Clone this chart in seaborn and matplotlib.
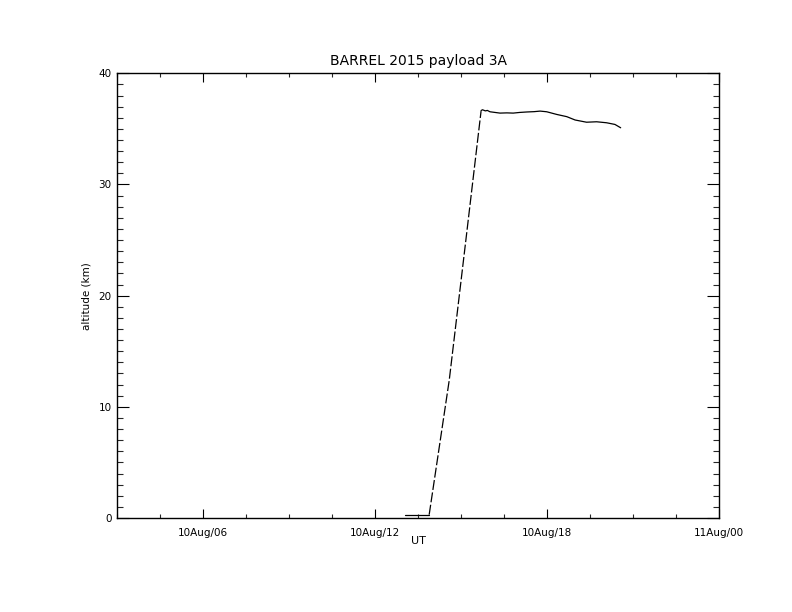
import matplotlib
matplotlib.use("Agg")
import matplotlib.pyplot as plt
import seaborn as sns
import numpy as np
from matplotlib.ticker import FixedLocator, MultipleLocator

sns.set_theme(style="white")
plt.rcParams['font.family'] = ['DejaVu Sans']
plt.rcParams['text.color'] = 'black'
plt.rcParams['axes.labelcolor'] = 'black'

# time in hours UT on 10 Aug 2015, altitude in km
pre_hours = [13.05, 13.88]
pre_alt = [0.3, 0.3]

rise_hours = [13.89, 14.59, 15.17, 15.70]
rise_alt = [0.3, 12.4, 25.0, 36.6]

float_hours = [15.70, 15.75, 15.85, 15.92, 16.01, 16.36, 16.60, 16.82, 17.05, 17.29,
               17.55, 17.76, 17.99, 18.34, 18.69, 18.98, 19.38, 19.73, 20.08, 20.37, 20.57]
float_alt = [36.65, 36.72, 36.62, 36.66, 36.54, 36.42, 36.44, 36.42, 36.48, 36.52,
             36.55, 36.6, 36.54, 36.3, 36.1, 35.8, 35.6, 35.64, 35.55, 35.4, 35.1]

xtick_pos = [6, 12, 18, 24]
xtick_labels = ["10Aug/06", "10Aug/12", "10Aug/18", "11Aug/00"]
ytick_pos = [0, 10, 20, 30, 40]

fig = plt.figure(figsize=(7.92, 6.12), dpi=100)
ax = fig.add_axes([117/792, 1-518/612, (719-117)/792, (518-73.3)/612])

sns.lineplot(x=pre_hours, y=pre_alt, ax=ax, color="black", lw=0.9)
sns.lineplot(x=rise_hours, y=rise_alt, ax=ax, color="black", lw=0.9, dashes=False)
ax.lines[-1].set_linestyle((0, (8, 2)))
sns.lineplot(x=float_hours, y=float_alt, ax=ax, color="black", lw=0.9)

ax.set_xlim(3, 24)
ax.set_ylim(0, 40)
ax.set_xticks(xtick_pos)
ax.set_xticklabels(xtick_labels)
ax.xaxis.set_minor_locator(MultipleLocator(1.5))
ax.set_yticks(ytick_pos)
ax.yaxis.set_minor_locator(MultipleLocator(1))

for s in ax.spines.values():
    s.set_color("black")
    s.set_linewidth(1.0)

ax.tick_params(axis='x', which='major', direction='in', length=6.5, width=0.8,
               top=True, bottom=True, labelsize=7.5, pad=7, colors='black')
ax.tick_params(axis='x', which='minor', direction='in', length=3.2, width=0.8,
               top=True, bottom=True)
ax.tick_params(axis='y', which='major', direction='in', length=8.5, width=0.8,
               left=True, right=True, labelsize=7.5, pad=4, colors='black')
ax.tick_params(axis='y', which='minor', direction='in', length=4.3, width=0.8,
               left=True, right=True)

ax.set_title("BARREL 2015 payload 3A", fontsize=10, pad=6, color='black')
ax.set_xlabel("UT", fontsize=8, labelpad=-1)
ax.set_ylabel("altitude (km)", fontsize=7.5, labelpad=5)

fig.savefig("out.png", dpi=100, facecolor="white")
